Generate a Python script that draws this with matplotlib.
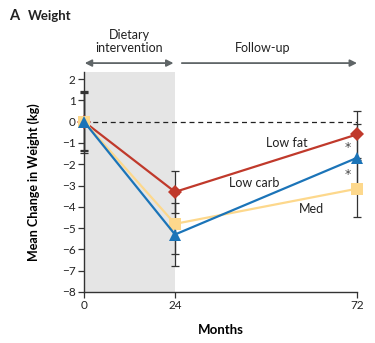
import matplotlib

matplotlib.use("Agg")
import matplotlib.pyplot as plt

plt.rcParams["font.family"] = ["Lato", "DejaVu Sans"]

months = [0, 24, 72]
low_fat = [0.0, -3.3, -0.6]
low_fat_err = [1.45, 1.0, 1.1]
low_carb = [0.0, -5.3, -1.7]
low_carb_err = [1.35, 1.5, 1.6]
med = [0.0, -4.8, -3.15]
med_err = [1.4, 1.4, 1.35]
y_ticks = list(range(2, -9, -1))
x_ticks = [0, 24, 72]

RED = "#c0392b"
BLUE = "#1b74b8"
YELLOW = "#fdd88c"
INK = "#333333"
ARROW = "#5f6567"

fig = plt.figure(figsize=(3.75, 3.43), dpi=100)
ax = fig.add_axes([0.224, 0.1487, 0.728, 0.6413])
ax.set_xlim(0, 72)
ax.set_ylim(-8, 2.33)

# shaded intervention period
ax.axvspan(0, 24, color="#e5e5e5", zorder=0, lw=0)
ax.axhline(0, color="#222222", lw=0.9, ls=(0, (4, 3)), zorder=1)

series = [
    (low_fat, low_fat_err, RED, "D", 7.5),
    (med, med_err, YELLOW, "s", 8.5),
    (low_carb, low_carb_err, BLUE, "^", 9),
]
for values, errs, color, marker, ms in series:
    ax.errorbar(months, values, yerr=errs, fmt="none", ecolor=INK,
                elinewidth=0.9, capsize=3.2, capthick=0.9, zorder=2,
                clip_on=False)
for values, errs, color, marker, ms in series:
    ax.plot(months, values, color=color, lw=1.6, marker=marker,
            markersize=ms, markeredgewidth=0, zorder=3, clip_on=False)

ax.text(53.5, -1.0, "Low fat", fontsize=9, ha="center", va="center", color="#222222")
ax.text(45, -2.9, "Low carb", fontsize=9, ha="center", va="center", color="#222222")
ax.text(60, -4.1, "Med", fontsize=9, ha="center", va="center", color="#222222")
ax.text(69.6, -1.2, "*", fontsize=9, ha="center", va="center", color="#444444",
        family="DejaVu Sans")
ax.text(69.6, -2.5, "*", fontsize=9, ha="center", va="center", color="#444444",
        family="DejaVu Sans")

ax.set_xticks(x_ticks)
ax.set_yticks(y_ticks)
ax.set_yticklabels([str(t).replace("-", "\u2212") for t in y_ticks])
ax.tick_params(direction="out", length=4, width=0.9, color=INK,
               labelsize=8.5, labelcolor="#222222", pad=2)
for side in ("top", "right"):
    ax.spines[side].set_visible(False)
for side in ("left", "bottom"):
    ax.spines[side].set_color(INK)
    ax.spines[side].set_linewidth(1.0)

ax.set_xlabel("Months", fontsize=9.5, fontweight="bold", labelpad=9)
ax.set_ylabel("Mean Change in Weight (kg)", fontsize=9, fontweight="bold", labelpad=16)

# period arrows above the plot
arrow_y = 2.75
ax.annotate("", xy=(0.2, arrow_y), xytext=(23.6, arrow_y), annotation_clip=False,
            arrowprops=dict(arrowstyle="<|-|>", color=ARROW, lw=1.3,
                            mutation_scale=10, shrinkA=0, shrinkB=0))
ax.annotate("", xy=(72, arrow_y), xytext=(25.8, arrow_y), annotation_clip=False,
            arrowprops=dict(arrowstyle="-|>", color=ARROW, lw=1.3,
                            mutation_scale=10, shrinkA=0, shrinkB=0))
ax.text(12, 3.2, "Dietary\nintervention", fontsize=9, ha="center", va="bottom",
        color="#222222", linespacing=1.1)
ax.text(47, 3.2, "Follow-up", fontsize=9, ha="center", va="bottom", color="#222222")

fig.text(0.024, 0.953, "A", fontsize=10.5, fontweight="bold", va="center", color="#222222")
fig.text(0.075, 0.953, "Weight", fontsize=9.5, fontweight="bold", va="center", color="#222222")

fig.savefig("out.png", dpi=100)
